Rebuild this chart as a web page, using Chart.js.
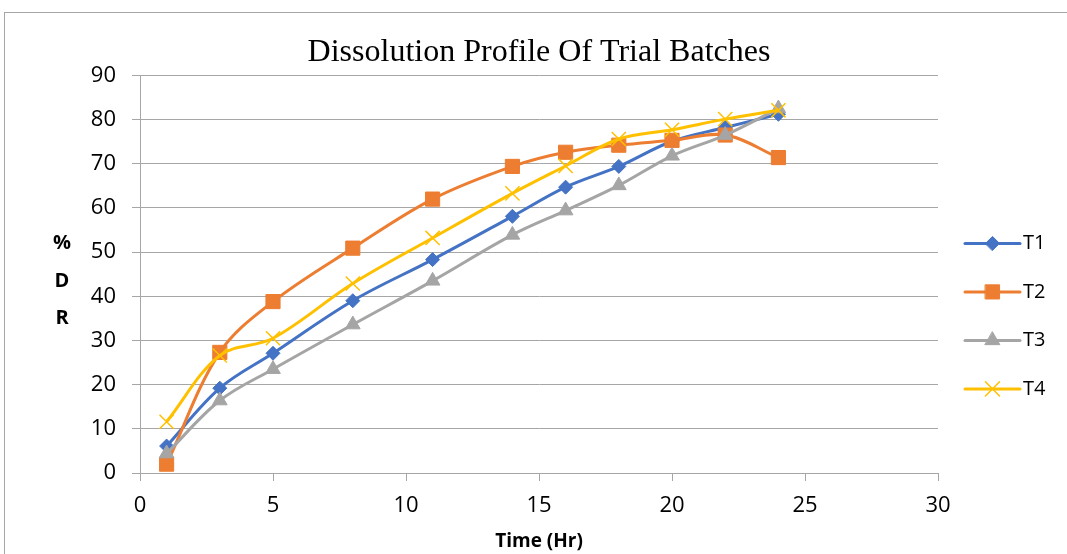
<!DOCTYPE html>
<html>
<head>
<meta charset="utf-8">
<title>Dissolution Profile</title>
<script src="https://cdn.jsdelivr.net/npm/chart.js@4/dist/chart.umd.min.js"></script>
<style>
  body { margin: 0; background: #fff; }
  #frame { position: absolute; left: 4px; top: 12px; width: 1080px; height: 600px; border: 1px solid #a6a6a6; }
  #wrap { position: absolute; left: 0; top: 0; width: 1067px; height: 554px; }
</style>
</head>
<body>
<div id="frame"></div>
<div id="wrap"><canvas id="myChart"></canvas></div>
<script>
// sampling times (hours)
const times = [1, 3, 5, 8, 11, 14, 16, 18, 20, 22, 24];

// % drug released per batch
const t1 = [6.1, 19.2, 27.1, 39.0, 48.3, 58.1, 64.7, 69.4, 75.1, 78.2, 81.2];
const t2 = [2.0, 27.3, 38.8, 50.9, 62.0, 69.4, 72.6, 74.2, 75.3, 76.5, 71.4];
const t3 = [4.4, 16.4, 23.5, 33.6, 43.5, 53.9, 59.4, 65.1, 71.8, 76.5, 82.5];
const t4 = [11.6, 26.6, 30.5, 42.9, 53.2, 63.3, 69.5, 75.6, 77.7, 80.1, 82.1];

const seriesNames = ['T1', 'T2', 'T3', 'T4'];
const yTitle = ['%', 'D', 'R'];

const font = '"Open Sans", "Liberation Sans", sans-serif';
const gridGray = '#a6a6a6';

const toPoints = (vals) => vals.map((v, i) => ({ x: times[i], y: v }));

function series(label, vals, color, style, radius, order) {
  return {
    label,
    data: toPoints(vals),
    borderColor: color,
    backgroundColor: color,
    borderWidth: 3,
    pointStyle: style,
    pointRadius: radius,
    pointHoverRadius: radius,
    pointBorderWidth: style === 'crossRot' ? 1.5 : 1,
    tension: 0.35,
    order,
  };
}

// stacked y title on the left and the line+marker legend on the right
const sideText = {
  id: 'sideText',
  afterDraw(chart) {
    const { ctx, chartArea } = chart;
    ctx.save();
    ctx.fillStyle = '#000';
    ctx.textAlign = 'center';
    ctx.textBaseline = 'middle';
    ctx.font = 'bold 20px ' + font;
    yTitle.forEach((ch, i) => {
      ctx.fillText(ch, chartArea.left - 78, chartArea.top + 168 + i * 37.5);
    });

    ctx.font = '20px ' + font;
    ctx.textAlign = 'left';
    chart.data.datasets.forEach((ds, i) => {
      const y = chartArea.top + 168 + i * 48.5;
      const x0 = chartArea.right + 27;
      const x1 = chartArea.right + 82;
      ctx.strokeStyle = ds.borderColor;
      ctx.lineWidth = 3;
      ctx.lineCap = 'round';
      ctx.beginPath();
      ctx.moveTo(x0, y);
      ctx.lineTo(x1, y);
      ctx.stroke();
      ctx.fillStyle = ds.backgroundColor;
      ctx.lineWidth = ds.pointBorderWidth;
      Chart.helpers.drawPoint(ctx, {
        pointStyle: ds.pointStyle,
        rotation: 0,
        radius: ds.pointRadius,
        borderWidth: ds.pointBorderWidth,
      }, (x0 + x1) / 2, y);
      ctx.fillStyle = '#000';
      ctx.fillText(ds.label, chartArea.right + 85, y);
    });
    ctx.restore();
  },
};

const ctx = document.getElementById('myChart');

new Chart(ctx, {
  type: 'line',
  data: {
    datasets: [
      series(seriesNames[0], t1, '#4472C4', 'rectRot', 7, 4),
      series(seriesNames[1], t2, '#ED7D31', 'rect', 10, 3),
      series(seriesNames[2], t3, '#A5A5A5', 'triangle', 8.5, 2),
      series(seriesNames[3], t4, '#FFC000', 'crossRot', 10, 1),
    ],
  },
  options: {
    responsive: true,
    maintainAspectRatio: false,
    animation: false,
    layout: {
      padding: { left: 0, right: 129, top: 33, bottom: 0 },
    },
    plugins: {
      legend: { display: false },
      tooltip: { enabled: false },
      title: {
        display: true,
        fullSize: false,
        text: 'Dissolution Profile Of Trial Batches',
        color: '#000',
        font: { family: '"Liberation Serif", "Times New Roman", serif', size: 32, weight: 'normal' },
        padding: { top: 0, bottom: 4 },
      },
    },
    scales: {
      x: {
        type: 'linear',
        min: 0,
        max: 30,
        afterFit: (scale) => { scale.height = 81; },
        ticks: {
          stepSize: 5,
          color: '#000',
          padding: 12,
          font: { family: font, size: 22 },
        },
        grid: {
          drawOnChartArea: false,
          drawTicks: true,
          tickLength: 8,
          color: gridGray,
        },
        border: { color: gridGray, width: 1 },
        title: {
          display: true,
          text: 'Time (Hr)',
          color: '#000',
          font: { family: font, size: 19, weight: 'bold' },
          padding: { top: 0, bottom: 1 },
        },
      },
      y: {
        min: 0,
        max: 90,
        afterFit: (scale) => { scale.width = 140; },
        ticks: {
          stepSize: 10,
          color: '#000',
          padding: 16,
          font: { family: font, size: 22 },
        },
        grid: {
          color: gridGray,
          tickLength: 8,
        },
        border: { color: gridGray, width: 1 },
      },
    },
  },
  plugins: [sideText],
});
</script>
</body>
</html>
